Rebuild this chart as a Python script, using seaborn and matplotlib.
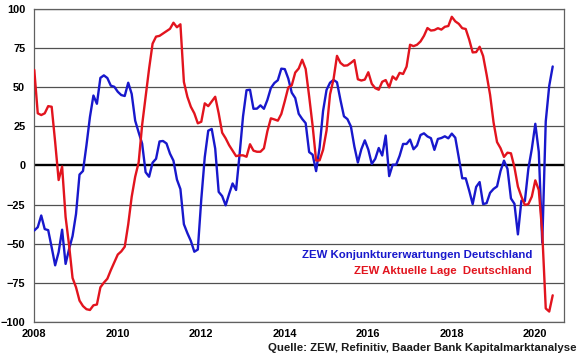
import numpy as np
import pandas as pd
import seaborn as sns
import matplotlib
matplotlib.use("Agg")
import matplotlib.pyplot as plt

# ZEW Konjunkturerwartungen (monthly, Jan 2008 - Jun 2020)
erwartungen = [
    -41.6, -39.5, -32.0, -40.7, -41.4, -52.4, -63.9, -55.5, -41.1, -63.0, -53.5, -45.2,
    -31.0, -5.8, -3.5, 13.0, 31.1, 44.8, 39.5, 56.1, 57.7, 56.0, 51.1, 50.4,
    47.2, 45.1, 44.5, 53.0, 45.8, 28.7, 21.2, 14.0, -4.3, -7.2, 1.8, 4.3,
    15.4, 15.7, 14.1, 7.6, 3.1, -9.0, -15.1, -37.6, -43.3, -48.3, -55.2, -53.8,
    -21.6, 5.4, 22.3, 23.4, 10.8, -16.9, -19.6, -25.5, -18.2, -11.5, -15.7, 6.9,
    31.5, 48.2, 48.5, 36.3, 36.4, 38.5, 36.3, 42.0, 49.6, 52.8, 54.6, 62.0,
    61.7, 55.7, 46.6, 43.2, 33.1, 29.8, 27.1, 8.6, 6.9, -3.6, 11.5, 34.9,
    48.4, 53.0, 54.8, 53.3, 41.9, 31.5, 29.7, 25.0, 12.1, 1.9, 10.4, 16.1,
    10.2, 1.0, 4.3, 11.2, 6.4, 19.2, -6.8, 0.5, 0.5, 6.2, 13.8, 13.8,
    16.6, 10.4, 12.8, 19.5, 20.6, 18.6, 17.5, 10.0, 17.0, 17.6, 18.7, 17.4,
    20.4, 17.8, 5.1, -8.2, -8.2, -16.1, -24.7, -13.7, -10.6, -24.7, -24.1, -17.5,
    -15.0, -13.4, -3.6, 3.1, -2.1, -21.1, -24.5, -44.1, -22.5, -22.8, -2.1, 10.7,
    26.7, 8.7, -49.5, 28.2, 51.0, 63.4,
]

# ZEW Aktuelle Lage
lage = [
    61.2, 33.4, 32.3, 33.4, 38.0, 37.6, 15.0, -9.3, -0.7, -33.0, -51.0, -72.0,
    -78.0, -86.5, -90.0, -92.0, -92.5, -89.5, -89.0, -78.0, -75.0, -72.5, -67.0, -62.0,
    -57.0, -55.0, -52.0, -37.7, -20.0, -7.2, 2.0, 26.0, 44.2, 62.0, 78.0, 82.5,
    83.0, 84.5, 86.0, 87.5, 91.4, 88.5, 90.4, 53.5, 44.0, 37.6, 33.4, 27.0,
    28.0, 39.8, 38.0, 41.0, 44.0, 33.4, 21.0, 17.4, 13.0, 9.5, 6.0, 6.5,
    6.5, 5.6, 13.6, 9.5, 8.8, 8.8, 11.0, 22.0, 30.2, 29.5, 28.7, 33.0,
    41.2, 50.0, 51.3, 59.5, 62.1, 67.7, 61.8, 44.3, 25.4, 3.2, 3.3, 10.0,
    22.4, 45.5, 55.1, 70.2, 65.7, 63.9, 64.1, 65.7, 67.5, 55.2, 54.4, 55.0,
    59.7, 52.3, 49.5, 48.5, 53.6, 54.7, 50.0, 57.0, 55.0, 59.3, 58.6, 63.3,
    77.3, 76.4, 77.3, 79.4, 83.0, 88.0, 86.4, 86.7, 87.9, 87.0, 88.8, 89.3,
    95.2, 92.3, 90.7, 87.9, 87.4, 80.6, 72.4, 72.6, 76.0, 70.1, 58.2, 45.3,
    27.6, 15.0, 11.1, 5.5, 8.2, 7.8, -1.1, -13.5, -19.9, -25.3, -24.7, -19.9,
    -9.5, -15.7, -43.1, -91.5, -93.5, -83.1,
]

year_ticks = [2008, 2010, 2012, 2014, 2016, 2018, 2020]
y_ticks = [-100, -75, -50, -25, 0, 25, 50, 75, 100]

df = pd.DataFrame({
    "t": 2008 + np.arange(len(lage)) / 12.0,
    "erwartungen": erwartungen,
    "lage": lage,
})

sns.set_style("white")
plt.rcParams["font.family"] = ["Liberation Sans", "DejaVu Sans"]
plt.rcParams["font.weight"] = "bold"

fig = plt.figure(figsize=(5.8, 3.59), dpi=100)
ax = fig.add_axes([0.0591, 0.1039, 0.9133, 0.8702])

blue = "#1818cc"
red = "#e2141e"

for yv in y_ticks:
    if yv == 0:
        continue
    ax.axhline(yv, color="#505050", lw=0.9, zorder=1)
ax.axhline(0, color="black", lw=1.7, zorder=2)

sns.lineplot(data=df, x="t", y="erwartungen", color=blue, lw=1.7, ax=ax, zorder=3)
sns.lineplot(data=df, x="t", y="lage", color=red, lw=1.7, ax=ax, zorder=4)

ax.set_xlim(2008, 2020.687)
ax.set_ylim(-100, 100)
ax.set_xticks(year_ticks)
ax.set_xticklabels([str(y) for y in year_ticks])
ax.set_yticks(y_ticks)
ax.set_xlabel("")
ax.set_ylabel("")

for sp in ax.spines.values():
    sp.set_color("#606060")
    sp.set_linewidth(0.9)

ax.tick_params(axis="both", which="both", labelsize=7.9, colors="#222222",
               length=2.5, width=0.9, direction="out")
ax.tick_params(axis="x", pad=3)
ax.tick_params(axis="y", pad=4)
for lab in ax.get_xticklabels() + ax.get_yticklabels():
    lab.set_fontweight("bold")
    lab.set_color("black")

ax.text(0.9396, 0.2135, "ZEW Konjunkturerwartungen Deutschland", transform=ax.transAxes,
        ha="right", va="center", color=blue, fontsize=8.2, fontweight="bold")
ax.text(0.9396, 0.1623, "ZEW Aktuelle Lage  Deutschland", transform=ax.transAxes,
        ha="right", va="center", color=red, fontsize=8.2, fontweight="bold")

fig.text(0.9948, 0.0306, "Quelle: ZEW, Refinitiv, Baader Bank Kapitalmarktanalyse",
         ha="right", va="center", color="#1a1a1a", fontsize=8.2, fontweight="bold")

fig.savefig("out.png", dpi=100)
